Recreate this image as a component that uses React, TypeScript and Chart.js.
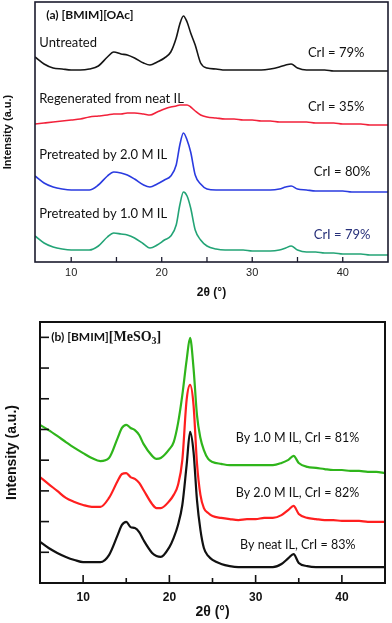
import React, { useEffect, useRef } from 'react';
import { Chart, registerables } from 'chart.js';

Chart.register(...registerables);

// ---------- Panel (a): [BMIM][OAc] ----------
const A_X = [6, 7, 8, 9, 10, 11, 12, 13, 14, 14.7, 15.5, 16.2, 17, 18, 18.7, 19.5, 20.3, 21, 21.6, 22, 22.4, 22.8, 23.2, 23.7, 24.3, 25, 26, 27, 28, 29, 30, 31, 32, 33, 33.7, 34.3, 35, 36, 37, 38, 39, 40, 41, 42, 43, 44, 45];
const A_UNTREATED = [20.5, 19.8, 19.4, 19.3, 19.2, 19.2, 19.3, 19.6, 20.5, 21.0, 20.8, 20.7, 20.4, 19.9, 19.7, 20.0, 20.4, 21.0, 22.4, 23.8, 24.6, 24.0, 22.9, 21.7, 19.9, 19.4, 19.3, 19.2, 19.2, 19.2, 19.2, 19.2, 19.3, 19.5, 19.7, 19.8, 19.4, 19.2, 19.2, 19.2, 19.1, 19.1, 19.1, 19.1, 19.1, 19.1, 19.1];
const A_REGEN = [13.8, 13.9, 14.0, 14.1, 14.2, 14.3, 14.5, 14.6, 14.7, 14.8, 14.8, 14.9, 14.9, 14.8, 14.7, 15.0, 15.3, 15.5, 15.6, 15.7, 15.7, 15.7, 15.5, 15.1, 14.7, 14.5, 14.4, 14.3, 14.3, 14.2, 14.2, 14.1, 14.1, 14.0, 14.0, 14.0, 14.0, 14.0, 13.9, 13.9, 13.9, 13.8, 13.8, 13.8, 13.7, 13.7, 13.7];
const A_PRE20 = [8.6, 7.9, 7.5, 7.3, 7.2, 7.2, 7.2, 7.7, 8.6, 9.0, 8.9, 8.7, 8.3, 7.7, 7.5, 7.8, 8.2, 8.6, 9.7, 11.7, 12.9, 12.2, 11.0, 8.7, 7.8, 7.3, 7.2, 7.2, 7.2, 7.2, 7.2, 7.2, 7.2, 7.3, 7.5, 7.6, 7.3, 7.2, 7.1, 7.1, 7.1, 7.1, 7.0, 7.0, 7.0, 7.0, 7.0];
const A_PRE10 = [2.6, 1.9, 1.5, 1.3, 1.2, 1.2, 1.2, 1.6, 2.5, 2.9, 2.8, 2.7, 2.4, 1.8, 1.4, 1.7, 2.2, 2.6, 3.7, 5.7, 7.0, 6.6, 5.4, 3.2, 2.2, 1.6, 1.3, 1.2, 1.2, 1.2, 1.1, 1.1, 1.1, 1.2, 1.4, 1.6, 1.2, 1.0, 1.0, 0.9, 0.9, 0.8, 0.8, 0.8, 0.7, 0.7, 0.7];
const A_NOTES = ['Untreated', 'CrI = 79%', 'Regenerated from neat IL', 'CrI = 35%', 'Pretreated by 2.0 M IL', 'CrI = 80%', 'Pretreated by 1.0 M IL', 'CrI = 79%'];
const A_TITLE = '(a) [BMIM][OAc]';

// ---------- Panel (b): [BMIM][MeSO3] ----------
const B_X = [5, 6, 7, 8, 9, 10, 11, 12, 13, 14, 14.5, 15, 15.5, 16, 16.5, 17, 18, 18.5, 19, 20, 20.5, 21, 21.5, 22, 22.4, 22.8, 23.2, 23.6, 24, 24.5, 25, 26, 27, 28, 29, 30, 31, 32, 33, 33.8, 34.4, 35, 36, 37, 38, 39, 40, 41, 42, 43, 44, 45];
const B_M10 = [5.15, 4.98, 4.79, 4.59, 4.40, 4.23, 4.07, 3.97, 4.07, 4.72, 5.05, 5.15, 5.05, 4.98, 4.82, 4.53, 4.14, 4.04, 4.07, 4.36, 4.59, 5.2, 6.12, 7.26, 7.98, 7.00, 5.47, 4.72, 4.33, 4.04, 3.94, 3.88, 3.84, 3.84, 3.84, 3.84, 3.84, 3.84, 3.91, 4.01, 4.14, 3.91, 3.78, 3.75, 3.71, 3.68, 3.68, 3.65, 3.65, 3.62, 3.62, 3.58];
const B_M20 = [3.45, 3.22, 3.00, 2.77, 2.64, 2.54, 2.48, 2.48, 2.77, 3.32, 3.55, 3.58, 3.45, 3.39, 3.26, 3.03, 2.57, 2.44, 2.44, 2.67, 2.87, 3.19, 4.0, 5.96, 6.45, 5.80, 3.9, 2.87, 2.44, 2.28, 2.18, 2.12, 2.08, 2.05, 2.08, 2.08, 2.12, 2.12, 2.21, 2.38, 2.51, 2.25, 2.12, 2.08, 2.05, 2.05, 2.02, 2.02, 2.02, 1.99, 1.99, 1.99];
const B_NEAT = [1.34, 1.14, 0.98, 0.85, 0.75, 0.68, 0.68, 0.68, 0.91, 1.56, 1.89, 1.99, 1.82, 1.79, 1.66, 1.40, 0.98, 0.88, 0.85, 1.17, 1.47, 1.89, 2.54, 3.84, 4.92, 4.27, 2.70, 1.73, 1.14, 0.88, 0.75, 0.62, 0.55, 0.52, 0.52, 0.52, 0.52, 0.52, 0.62, 0.81, 0.94, 0.65, 0.55, 0.52, 0.52, 0.52, 0.52, 0.52, 0.52, 0.52, 0.52, 0.52];
const B_NOTES = ['By 1.0 M IL, CrI = 81%', 'By 2.0 M IL, CrI = 82%', 'By neat IL, CrI = 83%'];

const SANS = '"Liberation Sans", Arial, sans-serif';
const LABEL_FONT = 'Lato, "Open Sans", sans-serif';

function series(xs: number[], ys: number[], color: string, width: number, label: string) {
  return {
    label,
    data: xs.map((x, i) => ({ x, y: ys[i] })),
    borderColor: color,
    backgroundColor: color,
    borderWidth: width,
    pointRadius: 0,
    fill: false,
    cubicInterpolationMode: 'monotone' as const,
  };
}

type Note = { text: string; x: number; y: number; color?: string };

function framePlugin(o: {
  lw: number; major: number; minor: number; tickColor: string; yTicks: number; notes: Note[];
  noteFont: string; drawTitle: (ctx: CanvasRenderingContext2D, x: any, y: any) => void;
}) {
  return {
    id: 'frame',
    afterDraw(chart: any) {
      const { ctx, chartArea } = chart;
      const { left, top, right, bottom } = chartArea;
      const xs = chart.scales.x;
      const ys = chart.scales.y;
      ctx.save();
      ctx.strokeStyle = o.tickColor;
      ctx.lineWidth = o.lw;
      ctx.strokeRect(left, top, right - left, bottom - top);
      ctx.lineWidth = Math.max(1.2, o.lw * 0.8);
      xs.ticks.forEach((t: any) => {
        if (t.value % 5 !== 0) return;
        const px = xs.getPixelForValue(t.value);
        if (px <= left + 1 || px >= right - 1) return;
        const len = t.value % 10 === 0 ? o.major : o.minor;
        ctx.beginPath();
        ctx.moveTo(px, bottom);
        ctx.lineTo(px, bottom - len);
        ctx.stroke();
      });
      if (o.yTicks > 0) {
        ys.ticks.forEach((t: any) => {
          if (t.value <= 0 || Math.abs(t.value - Math.round(t.value)) > 1e-6) return;
          const py = ys.getPixelForValue(t.value);
          if (py <= top + 1) return;
          ctx.beginPath();
          ctx.moveTo(left, py);
          ctx.lineTo(left + o.yTicks, py);
          ctx.stroke();
        });
      }
      ctx.textBaseline = 'middle';
      ctx.textAlign = 'left';
      o.notes.forEach((n) => {
        ctx.font = o.noteFont;
        ctx.fillStyle = n.color || '#111';
        ctx.fillText(n.text, xs.getPixelForValue(n.x), ys.getPixelForValue(n.y));
      });
      o.drawTitle(ctx, xs, ys);
      ctx.restore();
    },
  };
}

function configA() {
  return {
    type: 'line' as const,
    data: {
      datasets: [
        series(A_X, A_UNTREATED, '#151515', 1.6, 'Untreated'),
        series(A_X, A_REGEN, '#f2213a', 1.6, 'Regenerated from neat IL'),
        series(A_X, A_PRE20, '#2a3be0', 1.6, 'Pretreated by 2.0 M IL'),
        series(A_X, A_PRE10, '#23a476', 1.6, 'Pretreated by 1.0 M IL'),
      ],
    },
    options: {
      responsive: false,
      animation: false as const,
      devicePixelRatio: 1,
      layout: { padding: { top: 2, right: 3, left: 0, bottom: 0 } },
      plugins: { legend: { display: false }, tooltip: { enabled: false } },
      scales: {
        x: {
          type: 'linear' as const, min: 6, max: 45,
          grid: { display: false, drawTicks: false }, border: { display: false },
          ticks: {
            stepSize: 5, autoSkip: false, maxRotation: 0, padding: 4,
            font: { family: SANS, size: 11 }, color: '#222',
            callback: (v: any) => (v % 10 === 0 ? String(v) : ''),
          },
          title: { display: true, text: '2θ (°)', color: '#111', font: { family: SANS, size: 12, weight: 'bold' as const }, padding: { top: 0, bottom: 5 } },
          afterFit: (s: any) => { s.height = 43; },
        },
        y: {
          type: 'linear' as const, min: 0, max: 26,
          grid: { display: false, drawTicks: false }, border: { display: false },
          ticks: { display: false },
          title: { display: true, text: 'Intensity (a.u.)', color: '#111', font: { family: SANS, size: 11, weight: 'bold' as const }, padding: { top: 1, bottom: 0 } },
          afterFit: (s: any) => { s.width = 35; },
        },
      },
    },
    plugins: [
      framePlugin({
        lw: 1.6, major: 5, minor: 5, tickColor: '#1b1b2e', yTicks: 0,
        noteFont: `13px ${LABEL_FONT}`,
        notes: [
          { text: A_NOTES[0], x: 6.48, y: 21.9 },
          { text: A_NOTES[1], x: 36.15, y: 20.9 },
          { text: A_NOTES[2], x: 6.48, y: 16.3 },
          { text: A_NOTES[3], x: 36.15, y: 15.5 },
          { text: A_NOTES[4], x: 6.48, y: 10.7 },
          { text: A_NOTES[5], x: 36.8, y: 9.0 },
          { text: A_NOTES[6], x: 6.48, y: 4.8 },
          { text: A_NOTES[7], x: 36.8, y: 2.7, color: '#27307a' },
        ],
        drawTitle: (ctx, xs, ys) => {
          ctx.font = `bold 12px ${LABEL_FONT}`;
          ctx.fillStyle = '#111';
          ctx.fillText(A_TITLE, xs.getPixelForValue(7.25), ys.getPixelForValue(24.7));
        },
      }),
    ],
  };
}

function configB() {
  return {
    type: 'line' as const,
    data: {
      datasets: [
        series(B_X, B_NEAT, '#111111', 2.2, 'By neat IL'),
        series(B_X, B_M20, '#ff1f1f', 2.2, 'By 2.0 M IL'),
        series(B_X, B_M10, '#2fb51b', 2.2, 'By 1.0 M IL'),
      ],
    },
    options: {
      responsive: false,
      animation: false as const,
      devicePixelRatio: 1,
      layout: { padding: { top: 17, right: 3, left: 0, bottom: 0 } },
      plugins: { legend: { display: false }, tooltip: { enabled: false } },
      scales: {
        x: {
          type: 'linear' as const, min: 5, max: 45,
          grid: { display: false, drawTicks: false }, border: { display: false },
          ticks: {
            stepSize: 5, autoSkip: false, maxRotation: 0, padding: 7,
            font: { family: SANS, size: 12, weight: 'bold' as const }, color: '#111',
            callback: (v: any) => (v % 10 === 0 ? String(v) : ''),
          },
          title: { display: true, text: '2θ (°)', color: '#111', font: { family: SANS, size: 14, weight: 'bold' as const }, padding: { top: 0, bottom: 2 } },
          afterFit: (s: any) => { s.height = 40; },
        },
        y: {
          type: 'linear' as const, min: 0, max: 8.5,
          grid: { display: false, drawTicks: false }, border: { display: false },
          ticks: { display: false, stepSize: 1 },
          title: { display: true, text: 'Intensity (a.u.)', color: '#111', font: { family: SANS, size: 14, weight: 'bold' as const }, padding: { top: 4, bottom: 0 } },
          afterFit: (s: any) => { s.width = 40; },
        },
      },
    },
    plugins: [
      framePlugin({
        lw: 2, major: 8, minor: 5, tickColor: '#111', yTicks: 9,
        noteFont: `12.5px ${LABEL_FONT}`,
        notes: [
          { text: B_NOTES[0], x: 27.7, y: 4.72 },
          { text: B_NOTES[1], x: 27.7, y: 2.93 },
          { text: B_NOTES[2], x: 28.2, y: 1.24 },
        ],
        drawTitle: (ctx, xs, ys) => {
          let px = xs.getPixelForValue(6.3);
          const py = ys.getPixelForValue(8);
          ctx.fillStyle = '#111';
          ctx.font = `bold 12px ${LABEL_FONT}`;
          const p1 = '(b) [BMIM]';
          ctx.fillText(p1, px, py);
          px += ctx.measureText(p1).width;
          ctx.font = 'bold 14px "Liberation Serif", "Times New Roman", serif';
          const p2 = '[MeSO';
          ctx.fillText(p2, px, py);
          px += ctx.measureText(p2).width;
          ctx.font = 'bold 10px "Liberation Serif", "Times New Roman", serif';
          ctx.fillText('3', px, py + 4);
          px += ctx.measureText('3').width;
          ctx.font = 'bold 14px "Liberation Serif", "Times New Roman", serif';
          ctx.fillText(']', px, py);
        },
      }),
    ],
  };
}

export default function App() {
  const refA = useRef<HTMLCanvasElement>(null);
  const refB = useRef<HTMLCanvasElement>(null);
  useEffect(() => {
    const a = new Chart(refA.current as HTMLCanvasElement, configA() as any);
    const b = new Chart(refB.current as HTMLCanvasElement, configB() as any);
    return () => {
      a.destroy();
      b.destroy();
    };
  }, []);
  return (
    <div style={{ position: 'absolute', left: 0, top: 0, width: 392, height: 623, background: '#fff', overflow: 'hidden' }}>
      <canvas ref={refA} width={392} height={305} style={{ position: 'absolute', left: 0, top: 0, width: 392, height: 305 }} />
      <canvas ref={refB} width={392} height={318} style={{ position: 'absolute', left: 0, top: 305, width: 392, height: 318 }} />
    </div>
  );
}
